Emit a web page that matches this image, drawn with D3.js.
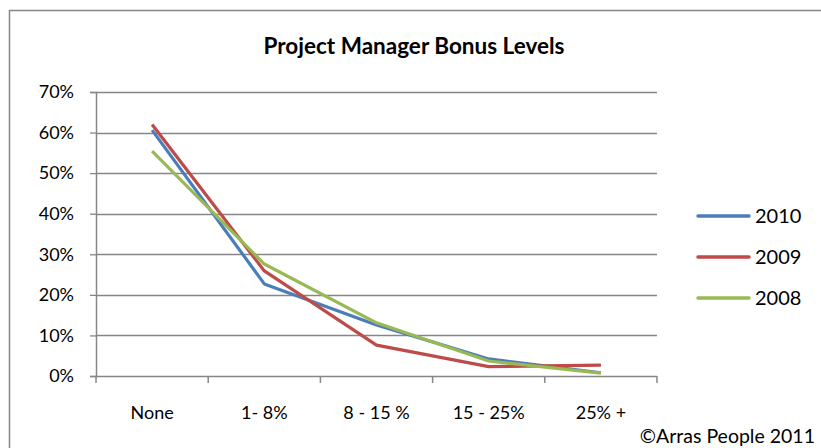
<!DOCTYPE html>
<html>
<head>
<meta charset="utf-8">
<script src="https://cdn.jsdelivr.net/npm/d3@7"></script>
<style>
  body { margin: 0; background: #fff; }
  text { font-family: Lato, "Open Sans", sans-serif; fill: #000; }
</style>
</head>
<body>
<div id="chart-div"></div>
<script>
// Script globals
const CHART_WIDTH = 821
const CHART_HEIGHT = 448

// chart data
const categories = ["None", "1- 8%", "8 - 15 %", "15 - 25%", "25% +"]
const seriesNames = ["2010", "2009", "2008"]
const seriesColors = ["#4a7ebb", "#be4b48", "#98b954"]
const values2010 = [0.606, 0.227, 0.126, 0.042, 0.008]
const values2009 = [0.620, 0.259, 0.076, 0.023, 0.027]
const values2008 = [0.554, 0.276, 0.131, 0.037, 0.007]
const yTickValues = [0, 0.1, 0.2, 0.3, 0.4, 0.5, 0.6, 0.7]

init();

function init () {
  const svg = d3.select("#chart-div").append("svg")
    .attr("width", CHART_WIDTH)
    .attr("height", CHART_HEIGHT)

  // outer chart border (runs off the right and bottom edge)
  svg.append("rect")
    .attr("x", 9.5).attr("y", 10.5)
    .attr("width", 830).attr("height", 460)
    .attr("fill", "none")
    .attr("stroke", "#868686")
    .attr("stroke-width", 1.5)

  // Declare the chart dimensions and margins.
  const marginLeft = 96
  const marginRight = 657
  const marginTop = 92
  const marginBottom = 376

  const x = d3.scaleBand()
    .domain(categories)
    .range([marginLeft, marginRight])

  const y = d3.scaleLinear()
    .domain([0, 0.7])
    .range([marginBottom, marginTop])

  // gridlines
  svg.append("g")
    .selectAll("line")
    .data(yTickValues.slice(1))
    .join("line")
      .attr("x1", marginLeft).attr("x2", marginRight)
      .attr("y1", d => Math.round(y(d)) + 0.5)
      .attr("y2", d => Math.round(y(d)) + 0.5)
      .attr("stroke", "#868686")
      .attr("stroke-width", 1.3)

  // Y axis
  const yAxis = svg.append("g")
    .attr("transform", `translate(${marginLeft},0)`)
    .call(d3.axisLeft(y).tickValues(yTickValues).tickFormat(d3.format(".0%")).tickSize(6).tickPadding(16))
  yAxis.selectAll("line").attr("stroke", "#868686").attr("stroke-width", 1.3)
  yAxis.select(".domain").attr("stroke", "#868686").attr("stroke-width", 1.5)
  yAxis.selectAll("text").style("font-size", "18px").style("font-family", "Lato, sans-serif")

  // X axis with tick marks at band boundaries
  const xAxis = svg.append("g")
    .attr("transform", `translate(0,${marginBottom})`)
  xAxis.append("line")
    .attr("x1", marginLeft).attr("x2", marginRight)
    .attr("y1", 0.5).attr("y2", 0.5)
    .attr("stroke", "#868686").attr("stroke-width", 1.5)
  const boundaries = categories.map(c => x(c)).concat([marginRight])
  xAxis.selectAll("line.tick")
    .data(boundaries)
    .join("line")
      .attr("class", "tick")
      .attr("x1", d => d).attr("x2", d => d)
      .attr("y1", 0).attr("y2", 7)
      .attr("stroke", "#868686").attr("stroke-width", 1.5)
  xAxis.selectAll("text")
    .data(categories)
    .join("text")
      .attr("x", d => x(d) + x.bandwidth() / 2)
      .attr("y", 43)
      .attr("text-anchor", "middle")
      .style("font-size", "18px")
      .text(d => d)

  // lines
  const allSeries = [values2010, values2009, values2008]
  const line = d3.line()
    .x((d, i) => x(categories[i]) + x.bandwidth() / 2)
    .y(d => y(d))

  allSeries.forEach((vals, i) => {
    svg.append("path")
      .datum(vals)
      .attr("fill", "none")
      .attr("stroke", seriesColors[i])
      .attr("stroke-width", 3.2)
      .attr("stroke-linejoin", "round")
      .attr("d", line)
  })

  // title
  svg.append("text")
    .attr("x", 414).attr("y", 54)
    .attr("text-anchor", "middle")
    .style("font-size", "22.5px")
    .style("font-weight", "bold")
    .text("Project Manager Bonus Levels")

  // legend
  const legend = svg.append("g")
  seriesNames.forEach((name, i) => {
    const ly = 216 + i * 41
    legend.append("line")
      .attr("x1", 698).attr("x2", 749)
      .attr("y1", ly).attr("y2", ly)
      .attr("stroke", seriesColors[i])
      .attr("stroke-width", 3.5)
      .attr("stroke-linecap", "round")
    legend.append("text")
      .attr("x", 755).attr("y", ly + 7)
      .style("font-size", "20px")
      .text(name)
  })

  // footer
  svg.append("text")
    .attr("x", 815).attr("y", 443)
    .attr("text-anchor", "end")
    .style("font-size", "19.5px")
    .text("\u00A9Arras People 2011")
}
</script>
</body>
</html>
